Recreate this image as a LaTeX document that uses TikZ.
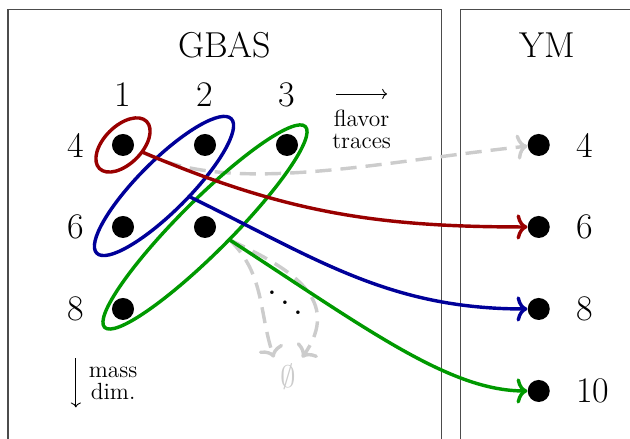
\documentclass[tikz,border=0pt]{standalone}
\usetikzlibrary{shapes.geometric, arrows.meta, positioning, calc}

\begin{document}
\begin{tikzpicture}[
    x=1.6cm, y=1.6cm,
    frame/.style={draw=black!70, line width=0.6pt},
    dot/.style={circle, fill=black, inner sep=0pt, minimum size=0.43cm},
    big/.style={font=\fontsize{20}{24}\selectfont},
    note/.style={font=\fontsize{13}{12.5}\selectfont, align=center, inner sep=0pt},
    trace/.style={ellipse, draw, line width=1.9pt, rotate=45, inner sep=0pt},
    flow/.style={line width=1.9pt, -{Computer Modern Rightarrow[length=6pt, width=14pt]}},
    ghost/.style={flow, gray!40, dash pattern=on 9pt off 5pt},
    axis/.style={line width=0.5pt, -{Computer Modern Rightarrow}}
]

\useasboundingbox (-1.5,-3.585) rectangle (6.183,1.768);
\clip (-1.5,-3.585) rectangle (6.183,1.768);

% Panels
\draw[frame] (-1.402,-4) rectangle (3.882,1.655);
\draw[frame] (4.118,-4) rectangle (7,1.655);
\node[big] (gbas) at (1.24,1.22) {GBAS};
\node[big] (ym) at (5.18,1.22) {YM};

% GBAS: mass dimension x number of flavor traces
\node[dot] (g41) at (0,0) {};
\node[dot] (g42) at (1,0) {};
\node[dot] (g43) at (2,0) {};
\node[dot] (g61) at (0,-1) {};
\node[dot] (g62) at (1,-1) {};
\node[dot] (g81) at (0,-2) {};

\node[big] (c1) at (0,0.616) {1};
\node[big] (c2) at (1,0.616) {2};
\node[big] (c3) at (2,0.616) {3};
\node[big] (r4) at (-0.573,0) {4};
\node[big] (r6) at (-0.573,-1) {6};
\node[big] (r8) at (-0.573,-2) {8};

\coordinate (fa) at (2.60,0.622);
\coordinate (fb) at (3.22,0.622);
\draw[axis] (fa) -- (fb);
\node[note] (flv) at (2.91,0.19) {flavor\\traces};

\coordinate (ma) at (-0.575,-2.6);
\coordinate (mb) at (-0.575,-3.2);
\draw[axis] (ma) -- (mb);
\node[note] (mdim) at (-0.12,-2.91) {mass\\dim.};

% YM side
\node[dot] (y4) at (5.07,0) {};
\node[dot] (y6) at (5.07,-1) {};
\node[dot] (y8) at (5.07,-2) {};
\node[dot] (y10) at (5.07,-3) {};
\node[big, inner sep=0pt, right=0.5cm of y4] (l4) {4};
\node[big, inner sep=0pt, right=0.5cm of y6] (l6) {6};
\node[big, inner sep=0pt, right=0.5cm of y8] (l8) {8};
\node[big, inner sep=0pt, right=0.5cm of y10] (l10) {10};

\node[font=\fontsize{18}{20}\selectfont, text=gray!40] (empty) at (2.012,-2.823) {$\emptyset$};
\node[anchor=base, scale=1.85, inner sep=0pt] (dd) at (1.976,-2.11) {$\ddots$};

% start points of the maps
\coordinate (rs) at (0.232,-0.085);
\coordinate (bs) at (0.817,-0.634);
\coordinate (gs) at (1.305,-1.16);

\draw[ghost] (rs) to[out=-27, in=186, out looseness=0.65] (y4);
\draw[ghost] (gs) to[out=-45, in=108] (empty.north west);
\draw[ghost] (gs) to[out=-25, in=55, looseness=1.3] (empty.north east);

% traces
\node[trace, draw=red!60!black, minimum width=1.3cm, minimum height=0.74cm] (t1) at (g41) {};
\node[trace, draw=blue!60!black, minimum width=3.71cm, minimum height=0.99cm] (t2) at ($(g42)!0.5!(g61)$) {};
\node[trace, draw=green!60!black, minimum width=5.54cm, minimum height=1.02cm] (t3) at (g62) {};

\draw[flow, red!60!black] (rs) to[out=-23, in=180] (y6);
\draw[flow, blue!60!black] (bs) to[out=-26, in=180] (y8);
\draw[flow, green!60!black] (gs) to[out=-33, in=180, out looseness=1.25, in looseness=0.6] (y10);

\end{tikzpicture}
\end{document}
